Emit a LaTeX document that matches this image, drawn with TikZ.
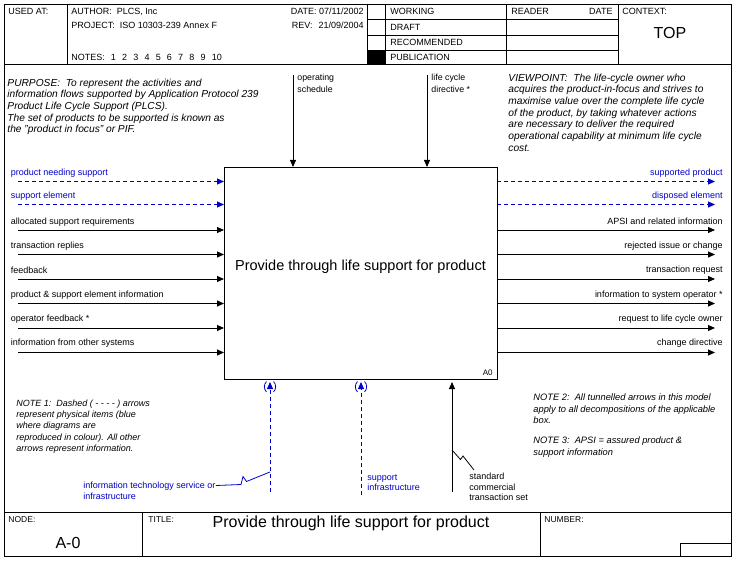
\documentclass[tikz,border=0pt]{standalone}
\usepackage{fontspec}
\setmainfont{Liberation Sans}
\usetikzlibrary{arrows.meta}
\definecolor{idefblue}{RGB}{0,0,200}
\begin{document}
\begin{tikzpicture}[x=1pt,y=-1pt,line width=0.9pt,
  lbl/.style={inner sep=0pt, font=\fontsize{9}{11}\selectfont},
  blbl/.style={lbl, text=idefblue},
  hdr/.style={inner sep=0pt, anchor=west, font=\fontsize{9}{11}\selectfont},
  small/.style={inner sep=0pt, anchor=west, font=\fontsize{8.5}{10}\selectfont},
  multi/.style={inner sep=0pt, align=left, anchor=north west},
  note/.style={multi, font=\fontsize{9}{11.3}\selectfont\itshape},
  arr/.style={-{Triangle[length=7pt,width=6pt]}},
  phys/.style={arr, draw=idefblue, dash pattern=on 4pt off 3pt},
  paren/.style={draw=idefblue, line width=0.8pt},
]
\useasboundingbox (0,0) rectangle (742,567);
% outer frame and header grid
\draw (4,4) rectangle (731,556);
\draw (4,64) -- (731,64);
\draw (67,4) -- (67,64);
\draw (367,4) -- (367,64);
\draw (385,4) -- (385,64);
\draw (506,4) -- (506,64);
\draw (618,4) -- (618,64);
\draw (367,19) -- (618,19);
\draw (367,35) -- (618,35);
\draw (367,50) -- (618,50);
\fill (367,50) rectangle (385,64);
% header texts
\node[hdr] (usedat) at (8,11.7) {USED AT:};
\node[hdr] (author) at (71,11.7) {AUTHOR:\ \ PLCS, Inc};
\node[hdr] (project) at (71,25.5) {PROJECT:\ \ ISO 10303-239 Annex F};
\node[hdr] (notes) at (71,57.3) {NOTES:\hspace{6pt}1\hspace{6.2pt}2\hspace{6.2pt}3\hspace{6.2pt}4\hspace{6.2pt}5\hspace{6.2pt}6\hspace{6.2pt}7\hspace{6.2pt}8\hspace{6.2pt}9\hspace{6.2pt}10};
\node[hdr, anchor=east] (date) at (364,11.7) {DATE: 07/11/2002};
\node[hdr, anchor=east] (rev) at (364,25.5) {REV:\hspace{6pt}21/09/2004};
\node[hdr] (working) at (390,11.7) {WORKING};
\node[hdr] (draft) at (390,27) {DRAFT};
\node[hdr] (recomm) at (390,42.5) {RECOMMENDED};
\node[hdr] (publ) at (390,57.5) {PUBLICATION};
\node[hdr] (reader) at (511,11.7) {READER};
\node[hdr, anchor=east] (rdate) at (613,11.7) {DATE};
\node[hdr] (context) at (622,11.7) {CONTEXT:};
\node[inner sep=0pt, font=\fontsize{16}{18}\selectfont] (top) at (670,33) {TOP};
% purpose and viewpoint
\node[multi, font=\fontsize{10.2}{11.6}\selectfont\itshape] (purpose) at (7,78.5)
 {PURPOSE:\ \ To represent the activities and\\
  information flows supported by Application Protocol 239\\
  Product Life Cycle Support (PLCS).\\
  The set of products to be supported is known as\\
  the "product in focus" or PIF.};
\node[multi, font=\fontsize{10.2}{11.65}\selectfont\itshape] (viewpoint) at (508,73.5)
 {VIEWPOINT:\ \ The life-cycle owner who\\
  acquires the product-in-focus and strives to\\
  maximise value over the complete life cycle\\
  of the product, by taking whatever actions\\
  are necessary to deliver the required\\
  operational capability at minimum life cycle\\
  cost.};
% activity box
\node[draw, minimum width=273pt, minimum height=212pt, inner sep=0pt, outer sep=0pt] (A0) at (360.5,273) {};
\node[inner sep=0pt, font=\fontsize{14.5}{16}\selectfont] (A0title) at (360.5,267) {Provide through life support for product};
\node[inner sep=0pt, anchor=east, font=\fontsize{8}{9}\selectfont] (A0num) at (493,373) {A0};
% inputs
\foreach \i/\y/\ly/\t in {1/181.5/173.3/product needing support, 2/204.5/195.7/support element}{
  \coordinate (in\i) at (18,\y);
  \draw[phys] (in\i) -- (in\i -| A0.west);
  \node[blbl, anchor=west] (inl\i) at (10.5,\ly) {\t};
}
\foreach \i/\y/\ly/\t in {3/230/221.7/allocated support requirements, 4/254.5/245.7/transaction replies, 5/279/270/feedback, 6/303.5/295/product \& support element information, 7/328/319.3/operator feedback *, 8/352.5/343.3/information from other systems}{
  \coordinate (in\i) at (18,\y);
  \draw[arr] (in\i) -- (in\i -| A0.west);
  \node[lbl, anchor=west] (inl\i) at (10.5,\ly) {\t};
}
% outputs
\foreach \i/\y/\ly/\t in {1/181.5/173.3/supported product, 2/204.5/195.7/disposed element}{
  \coordinate (out\i) at (715,\y);
  \draw[phys] (out\i -| A0.east) -- (out\i);
  \node[blbl, anchor=east] (outl\i) at (723,\ly) {\t};
}
\foreach \i/\y/\ly/\t in {3/230/221.7/APSI and related information, 4/254.5/245.7/rejected issue or change, 5/279/270/transaction request, 6/303.5/295/information to system operator *, 7/328/319.3/request to life cycle owner, 8/352.5/343.3/change directive}{
  \coordinate (out\i) at (715,\y);
  \draw[arr] (out\i -| A0.east) -- (out\i);
  \node[lbl, anchor=east] (outl\i) at (723,\ly) {\t};
}
% controls
\coordinate (ctl1) at (293,75);
\coordinate (ctl2) at (427,75);
\draw[arr] (ctl1) -- (ctl1 |- A0.north);
\draw[arr] (ctl2) -- (ctl2 |- A0.north);
\node[multi, font=\fontsize{8.8}{11.4}\selectfont] (ctll1) at (297,74) {operating\\schedule};
\node[multi, font=\fontsize{8.8}{11.4}\selectfont] (ctll2) at (431,74) {life cycle\\directive *};
% mechanisms
\coordinate (mech1) at (270,492);
\coordinate (mech2) at (361,495);
\coordinate (mech3) at (452,492);
\draw[phys, shorten >=3pt] (mech1) -- (mech1 |- A0.south);
\draw[phys, shorten >=3pt] (mech2) -- (mech2 |- A0.south);
\draw[arr, shorten >=3pt] (mech3) -- (mech3 |- A0.south);
\draw[paren] (266.5,381.5) .. controls (263.6,384.5) and (263.6,389) .. (266.5,392);
\draw[paren] (273.5,381.5) .. controls (276.4,384.5) and (276.4,389) .. (273.5,392);
\draw[paren] (357.5,381.5) .. controls (354.6,384.5) and (354.6,389) .. (357.5,392);
\draw[paren] (364.5,381.5) .. controls (367.4,384.5) and (367.4,389) .. (364.5,392);
\node[multi, text=idefblue, font=\fontsize{9}{11}\selectfont] (mechl1) at (83,481.7) {information technology service or\\infrastructure};
\node[multi, text=idefblue, font=\fontsize{9}{10.7}\selectfont] (mechl2) at (367,474) {support\\infrastructure};
\node[multi, font=\fontsize{9}{10.6}\selectfont] (mechl3) at (469,472.7) {standard\\commercial\\transaction set};
\coordinate (sq1) at (270,472);
\coordinate (sq3) at (452,450);
\draw[idefblue, line width=0.8pt] (mechl1.north east |- 0,485.5) -- (241,484.5) -- (243,476.5) -- (246.5,481.5) -- (sq1);
\draw[line width=0.8pt] (sq3) -- (460.5,459.5) -- (463,456) -- (474,470);
% notes
\node[note] (note1) at (16,399.2)
 {NOTE 1:\ \ Dashed ( - - - - ) arrows\\
  represent physical items (blue\\
  where diagrams are\\
  reproduced in colour). All other\\
  arrows represent information.};
\node[note, font=\fontsize{9.3}{11.3}\selectfont\itshape] (note2) at (533,393.6)
 {NOTE 2:\ \ All tunnelled arrows in this model\\
  apply to all decompositions of the applicable\\
  box.};
\node[note, font=\fontsize{9.3}{11.3}\selectfont\itshape] (note3) at (533,436.6)
 {NOTE 3:\ \ APSI = assured product \&\\
  support information};
% title block
\draw (4,512) -- (731,512);
\draw (142,512) -- (142,556);
\draw (540,512) -- (540,556);
\draw (680,543) rectangle (731,556);
\node[small] (nodel) at (8,519.5) {NODE:};
\node[small] (titlel) at (148,519.5) {TITLE:};
\node[small] (numberl) at (544,519.5) {NUMBER:};
\node[inner sep=0pt, font=\fontsize{16}{18}\selectfont] (nodeval) at (68,543) {A-0};
\node[inner sep=0pt, font=\fontsize{16}{18}\selectfont] (titleval) at (351,523) {Provide through life support for product};
\end{tikzpicture}
\end{document}
